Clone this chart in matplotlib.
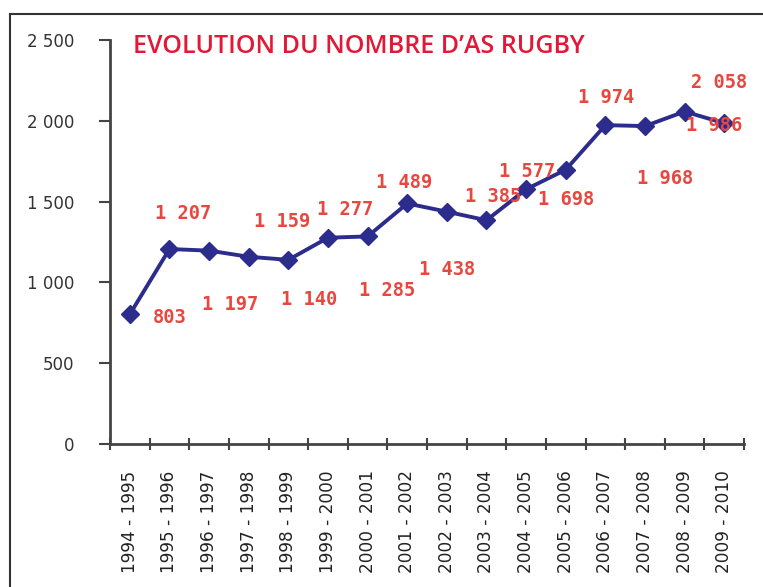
import matplotlib.pyplot as plt
from matplotlib.lines import Line2D

seasons = ["1994 - 1995", "1995 - 1996", "1996 - 1997", "1997 - 1998",
           "1998 - 1999", "1999 - 2000", "2000 - 2001", "2001 - 2002",
           "2002 - 2003", "2003 - 2004", "2004 - 2005", "2005 - 2006",
           "2006 - 2007", "2007 - 2008", "2008 - 2009", "2009 - 2010"]
nb_as = [803, 1207, 1197, 1159, 1140, 1277, 1285, 1489,
         1438, 1385, 1577, 1698, 1974, 1968, 2058, 1986]
y_ticks = [0, 500, 1000, 1500, 2000, 2500]
y_tick_labels = ["0", "500", "1 000", "1 500", "2 000", "2 500"]

# where each value label sits relative to its point (pixels)
label_offsets = [(40, -3), (14, 36), (21, -54), (33, 35), (21, -40), (17, 28),
                 (20, -54), (-3, 21), (0, -58), (7, 24), (1, 18), (0, -30),
                 (1, 28), (20, -52), (34, 29), (-10, -2)]

fig = plt.figure(figsize=(7.63, 5.87), dpi=100)
ax = fig.add_axes([0.1442, 0.2436, 0.831, 0.688])

x = list(range(len(seasons)))
ax.plot(x, nb_as, color='#2B2C8C', lw=2.8, marker='D', markersize=9.5,
        markeredgecolor='#2B2C8C', zorder=3)

for xi, v, (dx, dy) in zip(x, nb_as, label_offsets):
    txt = f"{v:,}".replace(",", " ")
    ax.annotate(txt, (xi, v), xytext=(dx, dy), textcoords='offset pixels',
                ha='center', va='center', color='#E8473F', fontsize=13.5,
                fontweight='bold', family='DejaVu Sans Mono', zorder=4)

ax.set_xlim(-0.5, len(seasons) - 0.5)
ax.set_ylim(0, 2500)
ax.set_yticks(y_ticks)
ax.set_yticklabels(y_tick_labels, fontsize=12, color='#333333')
ax.set_xticks([i - 0.5 for i in range(len(seasons) + 1)], minor=False)
ax.set_xticklabels([])
ax.set_xticks(x, minor=True)
ax.set_xticklabels(seasons, minor=True, rotation=90, fontsize=12.2, color='#222222')
ax.tick_params(axis='x', which='major', direction='inout', length=8, width=1.5, color='#444444')
ax.tick_params(axis='x', which='minor', length=0, pad=19)
ax.tick_params(axis='y', direction='out', length=8, width=1.5, color='#444444', pad=18)

for s in ['top', 'right']:
    ax.spines[s].set_visible(False)
for s in ['left', 'bottom']:
    ax.spines[s].set_color('#444444')
    ax.spines[s].set_linewidth(2)

fig.text(0.174, 0.921, "EVOLUTION DU NOMBRE D\u2019AS RUGBY", color='#E31837',
         fontsize=18, fontweight='semibold', family='Open Sans', va='center')

# outer frame (left and top edges)
fig.add_artist(Line2D([0.0131, 0.0131], [0, 0.976], color='#333333', lw=1.5))
fig.add_artist(Line2D([0.0131, 1.0], [0.976, 0.976], color='#333333', lw=1.5))

fig.savefig('out.png', dpi=100)
